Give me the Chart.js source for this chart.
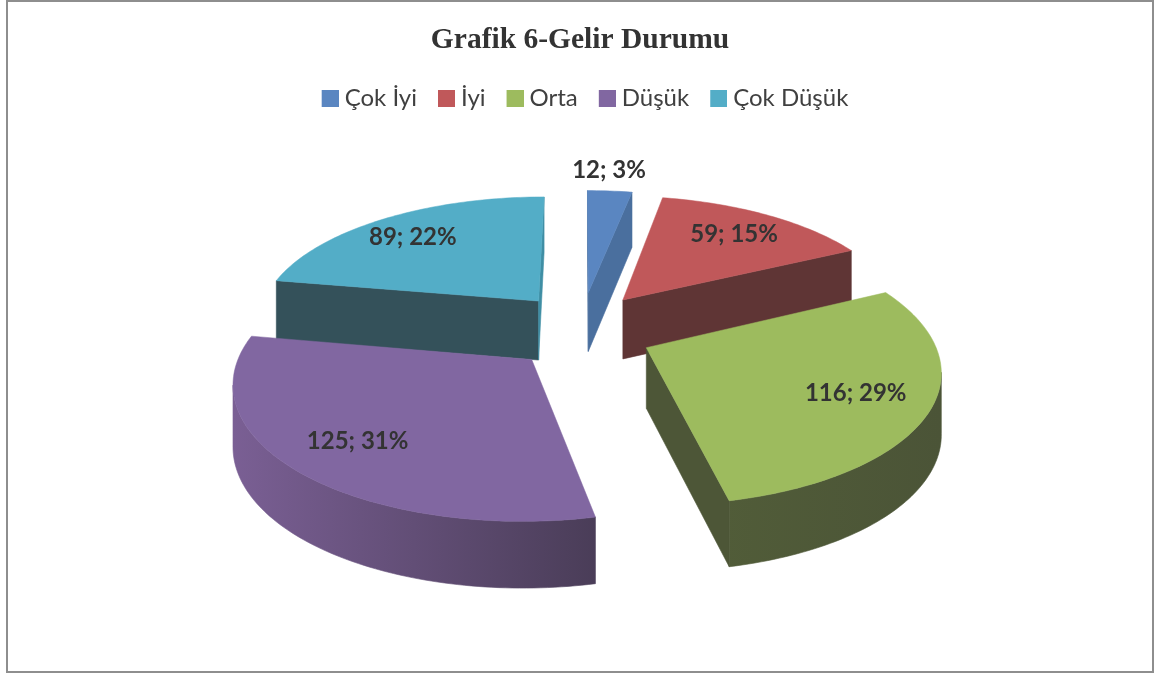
<!DOCTYPE html>
<html><head><meta charset="utf-8">
<style>html,body{margin:0;padding:0;background:#fff}#w{width:1157px;height:673px}canvas{display:block}</style>
<script src="https://cdn.jsdelivr.net/npm/chart.js@4"></script>
</head><body><div id="w"><canvas id="c" width="1157" height="673"></canvas></div>
<script>
const categories = ["Çok İyi","İyi","Orta","Düşük","Çok Düşük"];
const values = [12,59,116,125,89];
const percents = [3,15,29,31,22];
const chartTitle = "Grafik 6-Gelir Durumu";
const topColors = ["#5a86c1","#c0585a","#9dbb5e","#8167a1","#53adc7"];
const startWall = ["#4a6f9e","#5f3535","#4d5637","#7a5f94","#34515a"];
const endWall = ["#4a6f9e","#5f3535","#4d5637","#7a5f94","#3f8ea4"];
const rimFrom = ["#4a6f9e","#5f3535","#535f39","#7a5f94","#34515a"];
const rimTo = ["#4a6f9e","#5f3535","#4b5437","#4a3d58","#34515a"];
const explode = 70;
const labelR = [1.24,0.75,0.75,0.76,0.77];
const labelTurn = [-0.015,0,0,0,-0.02];
const TILT = 0.45, PERSP = 0.15, DEPTH = 60, OFFY = 1.25;

function swatch(color){
  const cv=document.createElement('canvas');cv.width=23;cv.height=17;
  const x=cv.getContext('2d');x.fillStyle=color;x.fillRect(6,0,17,17);
  return cv;
}
const pie3d = {
  id:'pie3d',
  afterLayout(chart){
    chart.legend.left+=3;chart.legend.right+=3;
    chart.legend.top-=7;chart.legend.bottom-=7;
    chart.titleBlock.left-=2;chart.titleBlock.right-=2;
  },
  beforeDraw(chart){
    const c=chart.ctx;
    c.save();c.fillStyle='#fff';c.fillRect(0,0,chart.width,chart.height);
    c.strokeStyle='#8e8e8e';c.lineWidth=2;c.strokeRect(7,1,1146,671);c.restore();
  },
  beforeDatasetDraw(chart,args){
    const c=chart.ctx, arcs=chart.getDatasetMeta(args.index).data;
    const order=[0,4,1,2,3];
    const proj=(el,px,py,z)=>{
      const R=el.outerRadius, s=1/(1-PERSP*py/R);
      return {x:el.x+px*s, y:el.y+py*TILT*s+(z?DEPTH*(1+(s-1)*0.5):0)};
    };
    const shape=(el)=>{
      const mid=(el.startAngle+el.endAngle)/2, d=el.options.offset||0;
      const ox=Math.cos(mid)*d, oy=Math.sin(mid)*d*OFFY, R=el.outerRadius;
      const pts=[{px:ox,py:oy,k:'s'}];
      const n=Math.max(6,Math.ceil((el.endAngle-el.startAngle)/0.02));
      for(let i=0;i<=n;i++){
        const a=el.startAngle+(el.endAngle-el.startAngle)*i/n;
        pts.push({px:ox+R*Math.cos(a),py:oy+R*Math.sin(a),k:i===n?'e':'r'});
      }
      return pts;
    };
    const wall=(run,fill)=>{
      c.beginPath();
      run.forEach((p,j)=>j?c.lineTo(p.t.x,p.t.y):c.moveTo(p.t.x,p.t.y));
      [...run].reverse().forEach(p=>c.lineTo(p.b.x,p.b.y));
      c.closePath();c.fillStyle=fill;c.strokeStyle=fill;c.lineWidth=0.6;c.fill();c.stroke();
    };
    for(const i of order){
      const el=arcs[i];
      const pts=shape(el).map(p=>({...p,t:proj(el,p.px,p.py,false),b:proj(el,p.px,p.py,true)}));
      const xs=pts.map(p=>p.t.x);
      const g=c.createLinearGradient(Math.min(...xs),0,Math.max(...xs),0);
      g.addColorStop(0,rimFrom[i]);g.addColorStop(1,rimTo[i]);
      let run=[];
      const flush=()=>{if(run.length>1)wall(run,g);run=[];};
      for(let j=0;j<pts.length;j++){
        const a=pts[j],b=pts[(j+1)%pts.length];
        const vis=b.t.x<a.t.x;
        if(a.k==='s'){ if(vis) wall([a,b],startWall[i]); continue; }
        if(a.k==='e'){ flush(); if(vis) wall([a,b],endWall[i]); continue; }
        if(vis){ if(!run.length)run.push(a); run.push(b); } else flush();
      }
      flush();
      c.beginPath();pts.forEach((p,j)=>j?c.lineTo(p.t.x,p.t.y):c.moveTo(p.t.x,p.t.y));c.closePath();
      c.fillStyle=el.options.backgroundColor;c.strokeStyle=el.options.backgroundColor;c.lineWidth=0.5;c.fill();c.stroke();
    }
    c.save();c.font='bold 24px Lato';c.fillStyle='#333';c.textAlign='center';c.textBaseline='middle';
    arcs.forEach((el,i)=>{
      const mid=(el.startAngle+el.endAngle)/2+labelTurn[i],d=el.options.offset||0,R=el.outerRadius;
      const p=proj(el,Math.cos(mid)*(d+R*labelR[i]),Math.sin(mid)*(d*OFFY+R*labelR[i]),false);
      c.fillText(values[i]+'; '+percents[i]+'%',p.x,p.y);
    });
    c.restore();
    return false;
  }
};

new Chart(document.getElementById('c'),{
  type:'pie',
  plugins:[pie3d],
  data:{labels:categories,datasets:[{data:values,backgroundColor:topColors,offset:explode,radius:284,borderWidth:0}]},
  options:{
    responsive:false,animation:false,
    layout:{padding:{top:0,bottom:140,left:7,right:0}},
    plugins:{
      tooltip:{enabled:false},
      title:{display:true,text:chartTitle,color:'#333',font:{family:'Liberation Serif',size:29.5,weight:'bold'},padding:{top:23,bottom:14}},
      legend:{position:'top',labels:{usePointStyle:true,boxWidth:11,boxHeight:17,color:'#404040',font:{family:'Lato',size:24},padding:21,
        generateLabels(chart){
          return Chart.overrides.pie.plugins.legend.labels.generateLabels(chart).map((it,i)=>({...it,pointStyle:swatch(topColors[i])}));
        }}}
    }
  }
});
</script></body></html>
